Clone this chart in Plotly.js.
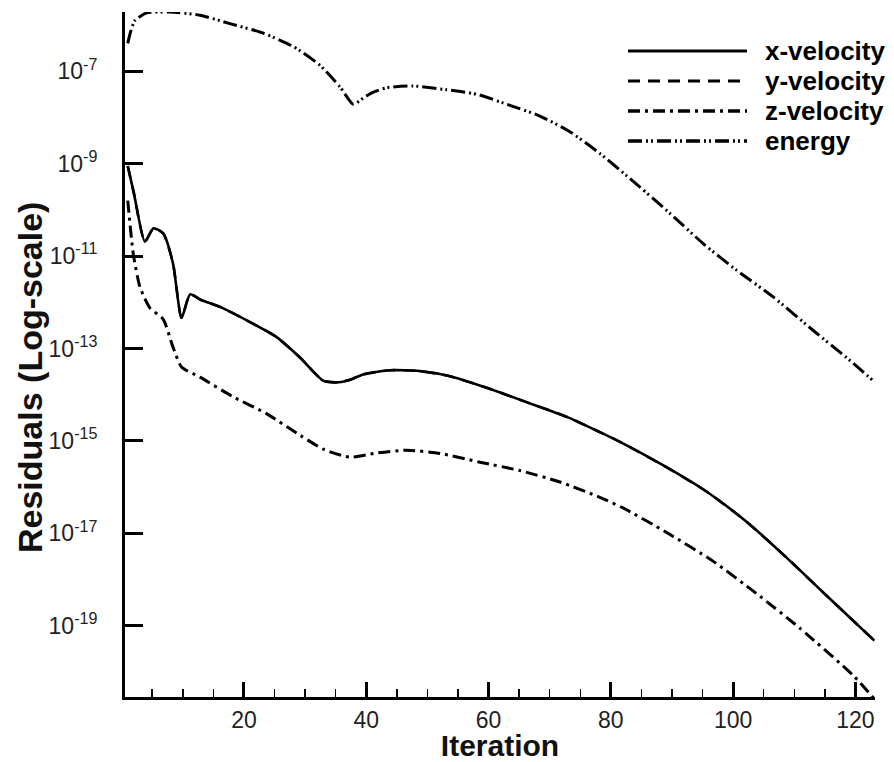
<!DOCTYPE html>
<html>
<head>
<meta charset="utf-8">
<script src="https://cdn.plot.ly/plotly-3.0.1.min.js"></script>
<style>
html,body{margin:0;padding:0;background:#fff;}
#chart{width:894px;height:762px;}
</style>
</head>
<body>
<div id="chart"></div>
<script>
// ---- data ----
const seriesNames = ["x-velocity", "y-velocity", "z-velocity", "energy"];

const xVelIter = [1, 2, 3.8, 5.2, 6.8, 8.4, 9.8, 11.2, 13, 16.1, 21.0, 25.3, 29.2, 33.0, 35.5, 37.5, 39.5, 43.9, 48.8, 53.7, 59.7, 66.2, 72.8, 78.2, 81.5, 88.6, 95.7, 102.2, 108.7, 115.3, 123.1];
const xVelRes = [8.9e-10, 2.3e-10, 2.04e-11, 3.98e-11, 3.09e-11, 6.92e-12, 4.57e-13, 1.48e-12, 1.12e-12, 7.94e-13, 3.72e-13, 1.78e-13, 6.31e-14, 2.0e-14, 1.86e-14, 2.14e-14, 2.75e-14, 3.39e-14, 3.24e-14, 2.51e-14, 1.41e-14, 6.92e-15, 3.31e-15, 1.55e-15, 9.55e-16, 2.95e-16, 7.94e-17, 1.78e-17, 3.02e-18, 4.47e-19, 4.79e-20];

// y-velocity is not distinguishable in the reference: it lies under the x-velocity curve
const yVelIter = [1, 2, 3.8, 5.2, 6.8, 8.4, 9.8, 11.2, 13, 16.1, 21.0, 25.3, 29.2, 33.0, 35.5, 37.5, 39.5, 43.9, 48.8, 53.7, 59.7, 66.2, 72.8, 78.2, 81.5, 88.6, 95.7, 102.2, 108.7, 115.3, 123.1];
const yVelRes = [8.9e-10, 2.3e-10, 2.04e-11, 3.98e-11, 3.09e-11, 6.92e-12, 4.57e-13, 1.48e-12, 1.12e-12, 7.94e-13, 3.72e-13, 1.78e-13, 6.31e-14, 2.0e-14, 1.86e-14, 2.14e-14, 2.75e-14, 3.39e-14, 3.24e-14, 2.51e-14, 1.41e-14, 6.92e-15, 3.31e-15, 1.55e-15, 9.55e-16, 2.95e-16, 7.94e-17, 1.78e-17, 3.02e-18, 4.47e-19, 4.79e-20];

const zVelIter = [1, 1.9, 3.0, 4.6, 6.8, 8.4, 9.8, 12.8, 18.3, 23.7, 29.2, 33.0, 37.3, 41.7, 46.6, 52.1, 58.6, 65.1, 71.7, 78.2, 82.0, 89.1, 96.7, 103.8, 110.9, 119.6, 123.2];
const zVelRes = [1.58e-10, 1.12e-11, 2.14e-12, 7.59e-13, 4.27e-13, 1.07e-13, 3.98e-14, 2.40e-14, 8.91e-15, 3.89e-15, 1.32e-15, 6.61e-16, 4.47e-16, 5.50e-16, 6.31e-16, 5.37e-16, 3.47e-16, 2.29e-16, 1.29e-16, 6.03e-17, 3.55e-17, 1.05e-17, 2.51e-18, 5.01e-19, 8.91e-20, 8.51e-21, 2.51e-21];

const energyIter = [1, 1.4, 2.2, 4.1, 7.9, 12.8, 17.7, 23.2, 28.1, 32.4, 35.7, 37.9, 39.5, 41.1, 43.3, 47.5, 53.1, 58.1, 63.5, 68.4, 73.3, 78.2, 83.1, 89.7, 95.1, 100.6, 106.6, 113.1, 119.1, 122.9];
const energyRes = [3.98e-7, 6.61e-7, 1.26e-6, 1.82e-6, 1.9e-6, 1.62e-6, 1.07e-6, 6.61e-7, 3.39e-7, 1.35e-7, 4.57e-8, 1.91e-8, 2.63e-8, 3.47e-8, 4.37e-8, 4.79e-8, 3.98e-8, 3.16e-8, 1.82e-8, 1.07e-8, 4.90e-9, 1.66e-9, 4.79e-10, 8.32e-11, 1.86e-11, 4.90e-12, 1.29e-12, 2.45e-13, 5.50e-14, 2.00e-14];

const yTickVals = [1e-7, 1e-9, 1e-11, 1e-13, 1e-15, 1e-17, 1e-19];
const yTickText = ["10<sup>-7</sup>", "10<sup>-9</sup>", "10<sup>-11</sup>", "10<sup>-13</sup>", "10<sup>-15</sup>", "10<sup>-17</sup>", "10<sup>-19</sup>"];
const xTickVals = [20, 40, 60, 80, 100, 120];
const xTickText = ["20", "40", "60", "80", "100", "120"];

// ---- styles ----
const styles = [
  {width: 2.6, dash: "solid"},
  {width: 2.6, dash: "12px,8px"},
  {width: 3, dash: "12px,5px,3px,5px"},
  {width: 3, dash: "14px,4px,2px,3px,2px,4px"}
];

const xs = [xVelIter, yVelIter, zVelIter, energyIter];
const ys = [xVelRes, yVelRes, zVelRes, energyRes];
const order = [1, 0, 2, 3];
const traces = order.map(i => ({
  type: "scatter", mode: "lines", name: seriesNames[i],
  x: xs[i], y: ys[i],
  line: {color: "#000", width: styles[i].width, dash: styles[i].dash, shape: "spline", smoothing: 0.6},
  showlegend: false, hoverinfo: "x+y+name"
}));

// manual legend (long line samples as in the reference)
const L = 125, R = 875, T = 12, B = 697;
const px2x = p => (p - L) / (R - L);
const px2y = p => (B - p) / (B - T);
const legendRows = [51, 81, 111, 141];
const shapes = [], annotations = [];
seriesNames.forEach((n, i) => {
  shapes.push({type: "line", xref: "paper", yref: "paper",
    x0: px2x(628), x1: px2x(747), y0: px2y(legendRows[i]), y1: px2y(legendRows[i]),
    line: {color: "#000", width: styles[i].width + 0.4, dash: styles[i].dash}});
  annotations.push({xref: "paper", yref: "paper", x: px2x(763), y: px2y(legendRows[i]),
    xanchor: "left", yanchor: "middle", showarrow: false, text: "<b>" + n + "</b>",
    font: {family: "Liberation Sans, Arial, sans-serif", size: 26, color: "#000"}});
});
annotations.push({xref: "paper", yref: "paper", x: px2x(30), y: px2y(378),
  xanchor: "center", yanchor: "middle", showarrow: false, textangle: -90,
  text: "<b>Residuals (Log-scale)</b>",
  font: {family: "Liberation Sans, Arial, sans-serif", size: 34, color: "#111"}});

const layout = {
  width: 894, height: 762,
  margin: {l: L, r: 894 - R, t: T, b: 762 - B, pad: 0},
  paper_bgcolor: "#fff", plot_bgcolor: "#fff",
  showlegend: false,
  font: {family: "Liberation Sans, Arial, sans-serif", color: "#222"},
  xaxis: {
    range: [0.55, 123.2], showgrid: false, zeroline: false,
    showline: true, linecolor: "#000", linewidth: 3,
    tickmode: "array", tickvals: xTickVals, ticktext: xTickText,
    ticks: "inside", ticklen: 15, tickwidth: 3, tickcolor: "#000",
    ticklabelstandoff: 0,
    tickfont: {size: 23, color: "#222"},
    minor: {dtick: 5, tick0: 0, ticks: "inside", ticklen: 8, tickwidth: 1.5, tickcolor: "#000", showgrid: false},
    title: {text: "<b>Iteration</b>", font: {size: 30, color: "#111"}, standoff: 7}
  },
  yaxis: {
    type: "log", range: [-20.54, -5.72], showgrid: false, zeroline: false,
    showline: true, linecolor: "#000", linewidth: 3,
    tickmode: "array", tickvals: yTickVals, ticktext: yTickText,
    ticks: "inside", ticklen: 18, tickwidth: 3, tickcolor: "#000",
    ticklabelstandoff: 20,
    tickfont: {size: 23, color: "#222"}
  },
  shapes: shapes,
  annotations: annotations
};

Plotly.newPlot("chart", traces, layout, {displayModeBar: false, staticPlot: true});
</script>
</body>
</html>
